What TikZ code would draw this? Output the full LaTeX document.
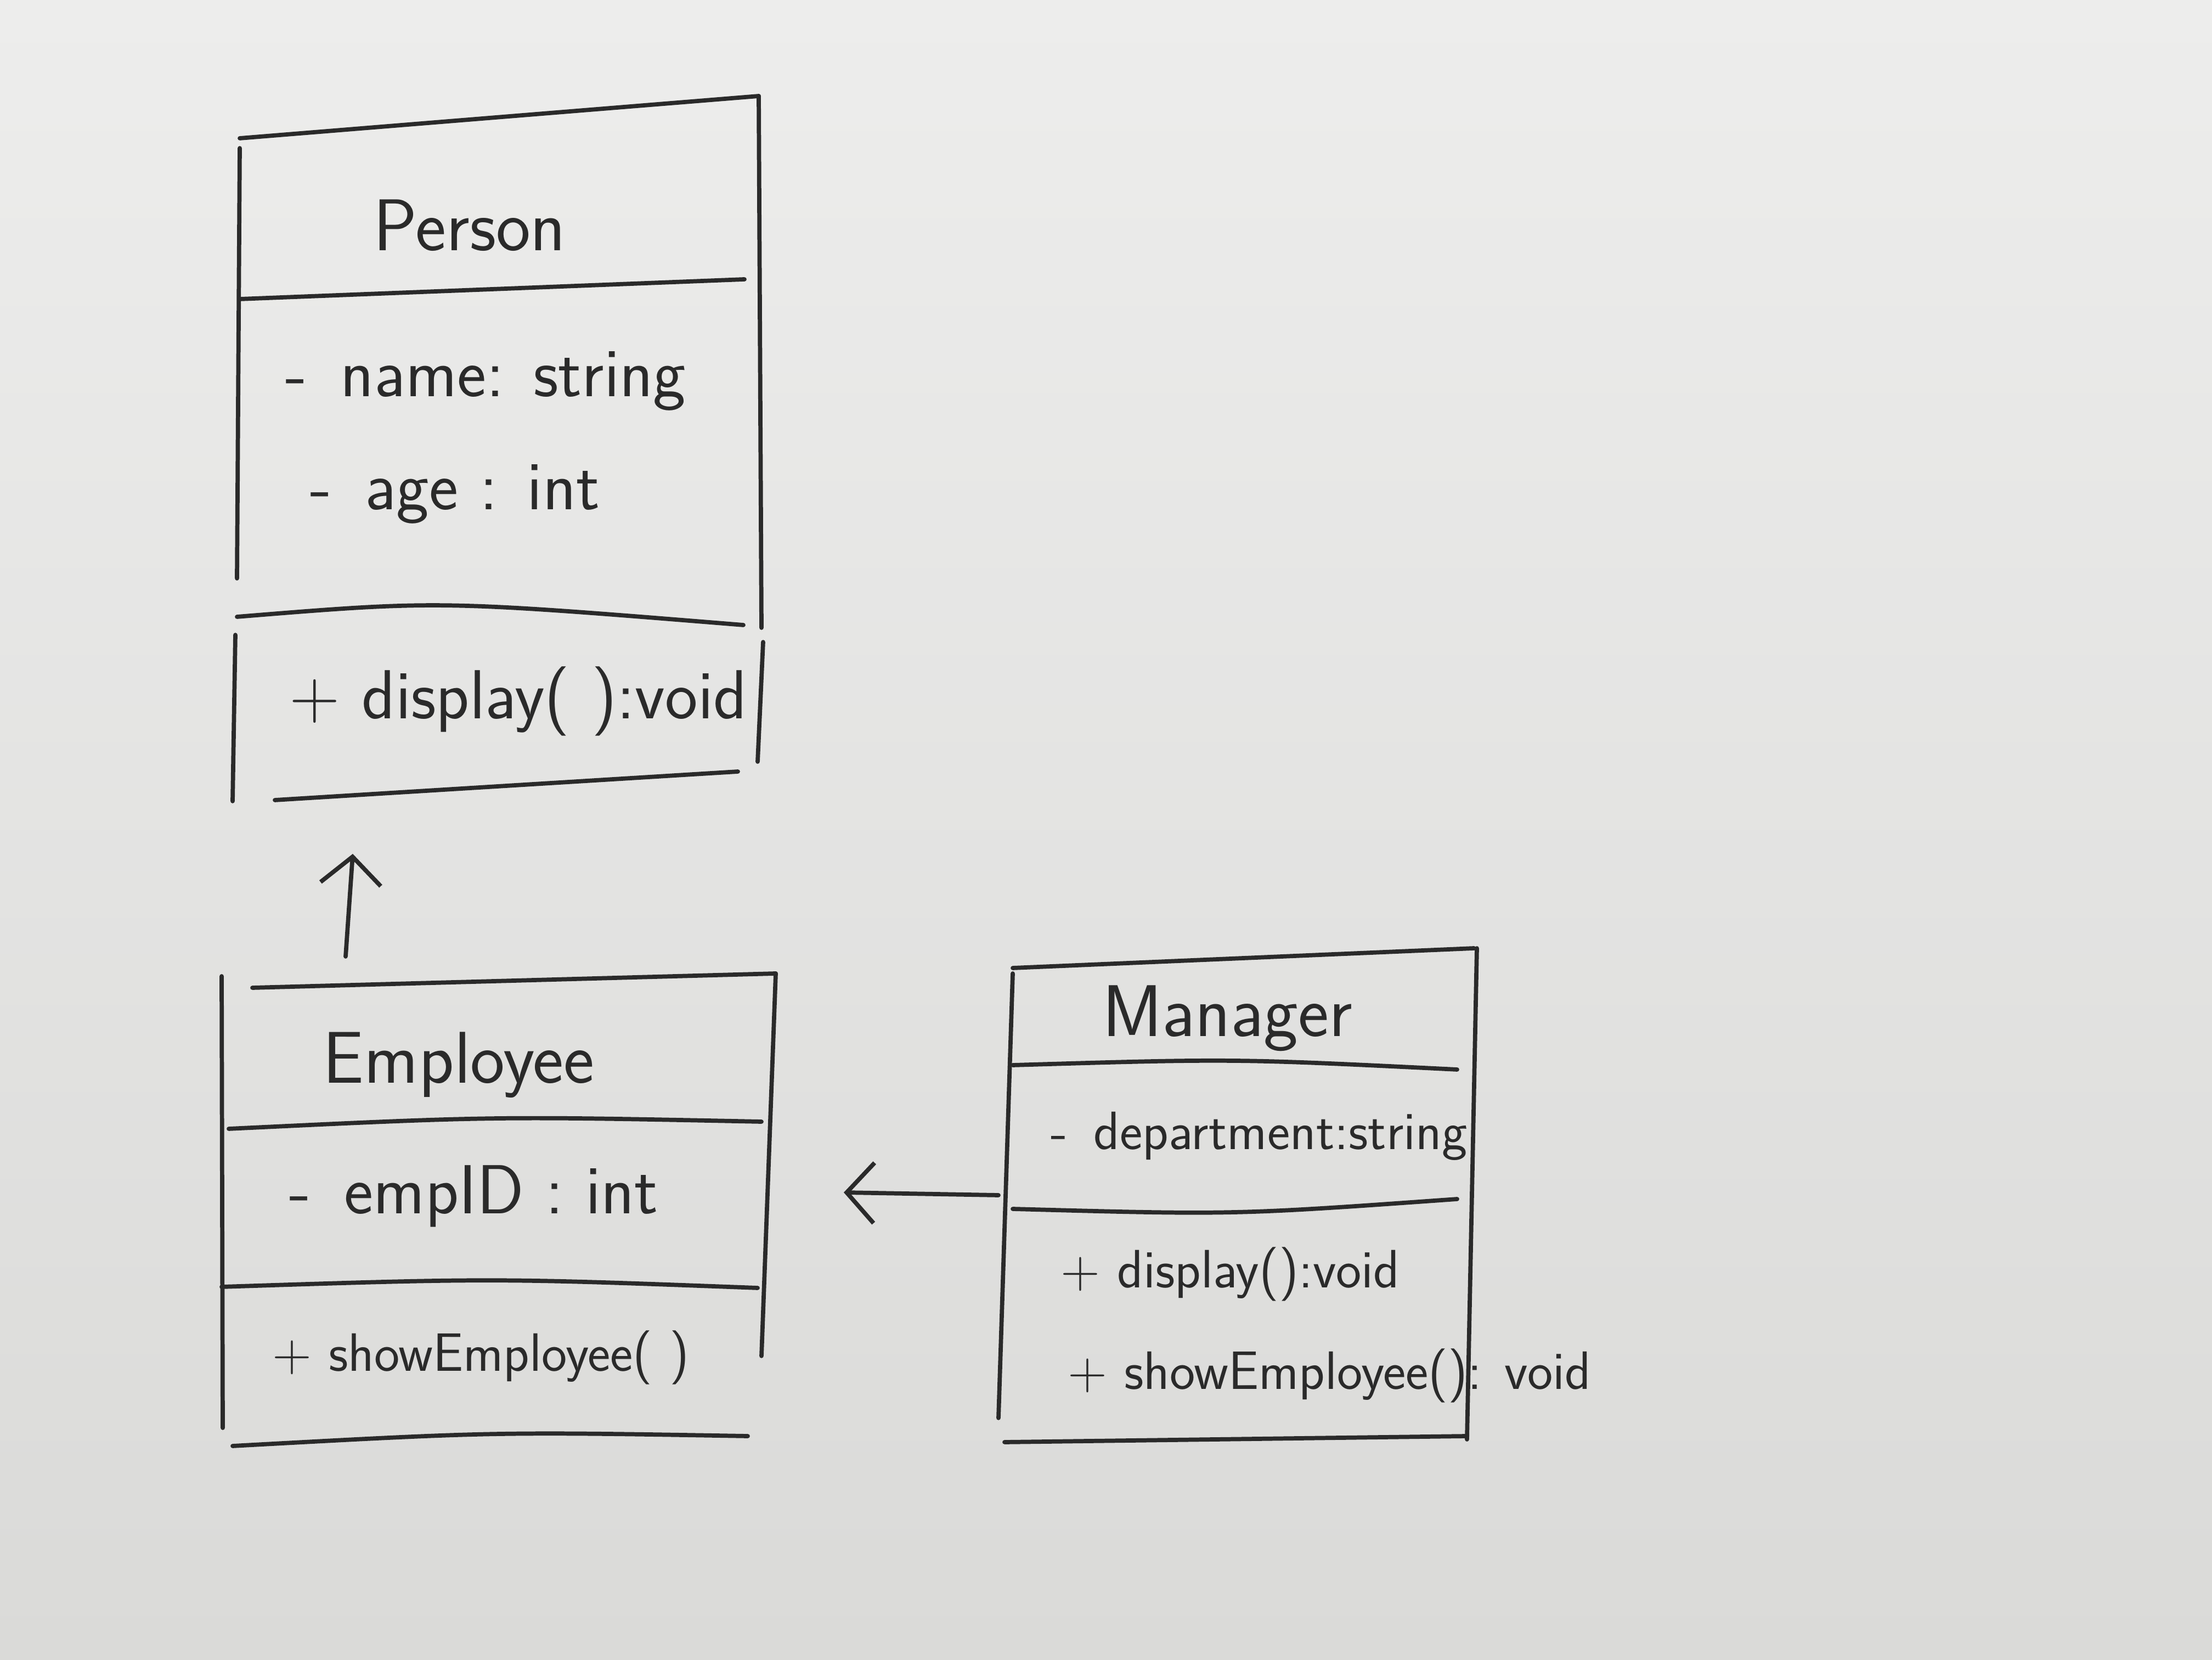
\documentclass[tikz,border=0pt]{standalone}
\usepackage{tikz}
\usepackage{xcolor}
\usetikzlibrary{arrows.meta}
\definecolor{pen}{HTML}{2A2A2A}
\definecolor{paperTop}{HTML}{EDEDEC}
\definecolor{paperBot}{HTML}{DADAD8}

\begin{document}
\begin{tikzpicture}
        \tikzstyle{every node}=[inner sep=0pt, anchor=west, text=pen, font=\sffamily\fontsize{36}{42}\selectfont]
        \tikzstyle{title}=[anchor=center, font=\sffamily\fontsize{38}{44}\selectfont]
        \tikzstyle{tight}=[font=\sffamily\fontsize{28}{34}\selectfont]
        \tikzstyle{pen line}=[draw=pen, line width=2.2pt, line cap=round]
        \tikzstyle{pen arrow}=[pen line, -{Straight Barb[length=5mm,width=11mm]}]
        \shade[top color=paperTop, bottom color=paperBot] (0,0) rectangle (40.32,30.24);
        \useasboundingbox (0,0) rectangle (40.32,30.24);

        % Person
        \draw[pen line] (4.37,27.72) to (13.83,28.49);
        \draw[pen line] (13.83,28.49) to (13.88,18.80);
        \draw[pen line] (13.91,18.54) to (13.81,16.36);
        \draw[pen line] (4.37,27.54) to (4.32,19.70);
        \draw[pen line] (4.29,18.67) to (4.24,15.64);
        \draw[pen line] (4.37,24.79) to (13.57,25.15);
        \draw[pen line] (4.32,19.00) .. controls (8,19.30) .. (13.55,18.85);
        \draw[pen line] (5.01,15.66) to (13.45,16.18);
        \node[title] (person) at (8.56,26.13) {Person};
        \node (name) at (5.20,23.30) {-\, name: string};
        \node (age) at (5.65,21.24) {-\, age : int};
        \node (pdisplay) at (5.27,17.46) {+ display( ):void};

        % Employee
        \draw[pen line] (4.60,12.24) to (14.14,12.50);
        \draw[pen line] (4.04,12.45) to (4.06,4.22);
        \draw[pen line] (14.14,12.50) to (13.88,5.53);
        \draw[pen line] (4.17,9.67) .. controls (9,9.90) .. (13.88,9.80);
        \draw[pen line] (4.04,6.79) .. controls (9,6.95) .. (13.81,6.77);
        \draw[pen line] (4.24,3.89) .. controls (9,4.15) .. (13.63,4.07);
        \node[title] (employee) at (8.36,10.83) {Employee};
        \node (empid) at (5.27,8.44) {-\, empID : int};
        \node[tight] (show) at (4.96,5.50) {+ showEmployee( )};

        % Manager
        \draw[pen line] (18.46,12.60) to (26.87,12.96);
        \draw[pen line] (18.46,12.50) to (18.20,4.40);
        \draw[pen line] (26.92,12.96) to (26.74,4.01);
        \draw[pen line] (18.46,10.83) .. controls (22.5,10.95) .. (26.56,10.75);
        \draw[pen line] (18.46,8.21) .. controls (22.5,8.10) .. (26.56,8.39);
        \draw[pen line] (18.31,3.96) to (26.74,4.07);
        \node[title] (manager) at (22.37,11.68) {Manager};
        \node[tight] (dept) at (19.15,9.54) {-\, department:string};
        \node[tight] (mdisplay) at (19.33,7.02) {+ display():void};
        \node[tight] (mshow) at (19.46,5.17) {+ showEmployee(): void};

        % inheritance
        \coordinate (empTop) at (6.30,12.81);
        \coordinate (personBelow) at (6.43,14.68);
        \coordinate (mgrLeft) at (18.20,8.46);
        \coordinate (empRight) at (15.38,8.51);
        \draw[pen arrow] (empTop) to (personBelow);
        \draw[pen arrow] (mgrLeft) to (empRight);
    \end{tikzpicture}
\end{document}
